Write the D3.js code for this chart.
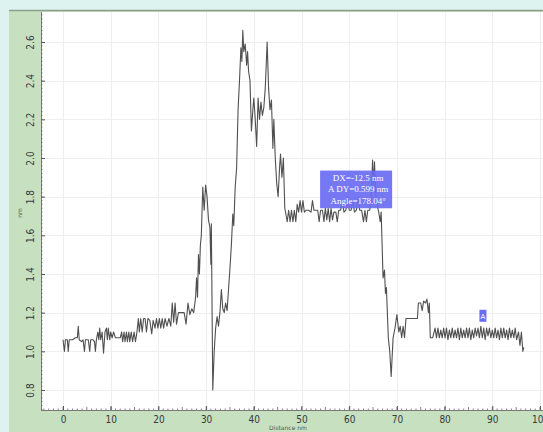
<!DOCTYPE html>
<html>
<head>
<meta charset="utf-8">
<script src="https://cdn.jsdelivr.net/npm/d3@7"></script>
<style>
  body { margin: 0; background: #dcf3ef; }
  svg { display: block; }
</style>
</head>
<body>
<svg id="chart" width="543" height="432"></svg>
<script>
// profile data (distance nm, height nm)
const distance = [
  0, 0.3, 0.5, 0.9, 1.1, 1.3, 1.8, 2.0, 2.6, 3.0, 3.2, 3.4, 3.9, 4.2, 4.5, 4.7, 5.3, 5.6, 5.8, 6.3,
  6.6, 6.8, 7.0, 7.3, 7.5, 7.7, 7.9, 8.2, 8.5, 8.8, 9.1, 9.3, 9.5, 9.8, 10.0, 10.3, 10.6, 11.0, 11.5, 12.0,
  12.3, 12.5, 12.8, 13.0, 13.3, 13.5, 13.8, 14.0, 14.3, 14.6, 14.9, 15.2, 15.5, 15.8, 16.0, 16.3, 16.6, 16.9, 17.2, 17.5,
  17.8, 18.2, 18.6, 18.9, 19.3, 19.6, 19.9, 20.2, 20.5, 20.8, 21.1, 21.4, 21.8, 22.2, 22.6, 22.9, 23.2, 23.5, 23.8, 24.2,
  24.8, 25.4, 25.8, 26.2, 26.6, 27.0, 27.4, 27.8, 28.0, 28.2, 28.4, 28.6, 28.8, 29.0, 29.3, 29.6, 29.9, 30.2, 30.5, 30.8,
  31.0, 31.1, 31.4, 31.7, 32.0, 32.3, 32.6, 32.9, 33.2, 33.5, 33.8, 34.1, 34.4, 34.7, 35.0, 35.3, 35.6, 35.8, 36.1, 36.4,
  36.7, 37.0, 37.3, 37.5, 37.7, 37.9, 38.2, 38.5, 38.7, 38.9, 39.2, 39.5, 39.8, 40.0, 40.3, 40.6, 40.9, 41.2, 41.5, 41.8,
  42.1, 42.4, 42.8, 43.1, 43.4, 43.7, 44.0, 44.2, 44.5, 44.8, 45.1, 45.4, 45.6, 45.9, 46.2, 46.5, 46.8, 47.0, 47.3, 47.6,
  47.9, 48.2, 48.5, 48.8, 49.1, 49.4, 49.7, 50.0, 50.3, 50.6, 51.0, 51.5, 52.0, 52.3, 52.6, 53.0, 53.4, 53.7, 54.0, 54.4,
  54.7, 55.0, 55.3, 55.6, 55.9, 56.2, 56.5, 56.8, 57.2, 57.5, 57.8, 58.2, 58.6, 58.9, 59.3, 59.7, 60.0, 60.4, 60.8, 61.1,
  61.5, 61.9, 62.2, 62.6, 63.0, 63.3, 63.6, 63.9, 64.3, 64.6, 64.9, 65.1, 65.3, 65.6, 65.9, 66.2, 66.5, 66.7, 66.9, 67.1,
  67.4, 67.6, 67.8, 68.0, 68.2, 68.5, 68.8, 69.2, 69.6, 70.0, 70.4, 70.7, 71.0, 71.3, 71.6, 71.9, 72.5, 73.5, 74.3, 74.5,
  75.0, 75.3, 75.6, 76.0, 76.3, 76.6, 76.8, 77.0, 77.5, 78.0, 78.3, 78.6, 78.9, 79.2, 79.5, 79.8, 80.1, 80.4, 80.7, 81.0,
  81.3, 81.6, 81.9, 82.2, 82.5, 82.8, 83.1, 83.4, 83.7, 84.0, 84.3, 84.6, 84.9, 85.2, 85.5, 85.8, 86.1, 86.4, 86.7, 87.0,
  87.3, 87.6, 87.9, 88.2, 88.5, 88.8, 89.1, 89.4, 89.7, 90.0, 90.3, 90.6, 90.9, 91.2, 91.5, 91.8, 92.1, 92.4, 92.7, 93.0,
  93.3, 93.6, 93.9, 94.2, 94.5, 94.8, 95.1, 95.5, 95.8, 96.1, 96.4, 96.6
];
const height = [
  1.06, 1.00, 1.06, 1.06, 1.00, 1.06, 1.06, 1.06, 1.07, 1.07, 1.13, 1.06, 1.05, 1.06, 1.00, 1.06, 1.06, 1.00, 1.06, 1.06,
  1.05, 1.00, 1.06, 1.10, 1.06, 1.12, 1.06, 1.10, 0.99, 1.10, 1.12, 1.06, 1.12, 1.06, 1.10, 1.07, 1.10, 1.07, 1.07, 1.07,
  1.10, 1.05, 1.10, 1.05, 1.10, 1.05, 1.10, 1.05, 1.10, 1.05, 1.10, 1.05, 1.10, 1.17, 1.10, 1.17, 1.10, 1.17, 1.17, 1.10,
  1.17, 1.16, 1.09, 1.16, 1.12, 1.17, 1.12, 1.17, 1.12, 1.17, 1.12, 1.17, 1.13, 1.17, 1.13, 1.25, 1.15, 1.25, 1.14, 1.20,
  1.20, 1.20, 1.14, 1.25, 1.19, 1.22, 1.20, 1.28, 1.38, 1.28, 1.50, 1.40, 1.55, 1.60, 1.85, 1.73, 1.86, 1.80, 1.68, 1.64,
  1.45, 1.66, 0.80, 1.00, 1.12, 1.18, 1.13, 1.20, 1.32, 1.22, 1.20, 1.25, 1.21, 1.32, 1.43, 1.55, 1.71, 1.65, 1.85, 1.95,
  2.25, 2.40, 2.57, 2.50, 2.66, 2.55, 2.59, 2.48, 2.55, 2.45, 2.40, 2.14, 2.25, 2.31, 2.20, 2.06, 2.31, 2.20, 2.29, 2.22,
  2.26, 2.36, 2.60, 2.36, 2.25, 2.30, 2.05, 2.20, 2.00, 1.87, 1.80, 1.95, 2.02, 1.90, 2.00, 1.74, 1.70, 1.67, 1.73, 1.67,
  1.73, 1.67, 1.73, 1.67, 1.76, 1.72, 1.78, 1.72, 1.78, 1.72, 1.73, 1.73, 1.72, 1.78, 1.73, 1.73, 1.73, 1.67, 1.73, 1.73,
  1.67, 1.74, 1.68, 1.74, 1.67, 1.74, 1.68, 1.72, 1.72, 1.67, 1.73, 1.73, 1.78, 1.72, 1.73, 1.80, 1.73, 1.73, 1.78, 1.72,
  1.73, 1.80, 1.73, 1.73, 1.67, 1.73, 1.67, 1.73, 1.73, 1.78, 1.99, 1.85, 1.98, 1.80, 1.75, 1.72, 1.67, 1.72, 1.55, 1.38,
  1.42, 1.30, 1.33, 1.20, 1.07, 1.00, 0.87, 1.07, 1.12, 1.19, 1.10, 1.13, 1.07, 1.13, 1.07, 1.17, 1.17, 1.17, 1.17, 1.25,
  1.25, 1.21, 1.26, 1.25, 1.27, 1.20, 1.25, 1.07, 1.07, 1.12, 1.07, 1.12, 1.07, 1.11, 1.07, 1.12, 1.07, 1.12, 1.06, 1.11,
  1.07, 1.12, 1.07, 1.11, 1.07, 1.12, 1.06, 1.12, 1.07, 1.11, 1.07, 1.12, 1.07, 1.12, 1.06, 1.11, 1.07, 1.12, 1.08, 1.12,
  1.07, 1.13, 1.07, 1.12, 1.06, 1.12, 1.08, 1.12, 1.07, 1.11, 1.07, 1.12, 1.07, 1.11, 1.06, 1.12, 1.07, 1.12, 1.07, 1.11,
  1.06, 1.12, 1.07, 1.11, 1.07, 1.12, 1.06, 1.10, 1.03, 1.10, 1.00, 1.02
];
const xTicks = [0, 10, 20, 30, 40, 50, 60, 70, 80, 90, 100];
const yTicks = [0.8, 1.0, 1.2, 1.4, 1.6, 1.8, 2.0, 2.2, 2.4, 2.6];
const noteLines = ["DX=-12.5 nm", "A DY=0.599 nm", "Angle=178.04°"];

const svg = d3.select("#chart");
const W = 543, H = 432;
const PLOT = { left: 41, top: 12, right: 543, bottom: 410 };

// Scales
const xScale = d3.scaleLinear().domain([0, 100]).range([63, 540]);
const yScale = d3.scaleLinear().domain([0.8, 2.6]).range([390, 42]);

// backgrounds
svg.append("rect").attr("width", W).attr("height", H).attr("fill", "#dcf3ef");
svg.append("rect").attr("x", 9).attr("y", 10).attr("width", W - 9).attr("height", H - 10).attr("fill", "#c6e0c0");
svg.append("line").attr("x1", 9).attr("x2", W).attr("y1", 10.5).attr("y2", 10.5)
  .attr("stroke", "#8e9e8c").attr("stroke-width", 1.5);
svg.append("rect").attr("x", PLOT.left).attr("y", PLOT.top)
  .attr("width", PLOT.right - PLOT.left).attr("height", PLOT.bottom - PLOT.top).attr("fill", "#fff");

// grid
const grid = svg.append("g").attr("stroke", "#eeeeee").attr("stroke-width", 1);
grid.selectAll(".vg").data(xTicks).enter().append("line")
  .attr("x1", d => Math.round(xScale(d)) + 0.5).attr("x2", d => Math.round(xScale(d)) + 0.5)
  .attr("y1", PLOT.top).attr("y2", PLOT.bottom);
grid.selectAll(".hg").data(yTicks).enter().append("line")
  .attr("y1", d => Math.round(yScale(d)) + 0.5).attr("y2", d => Math.round(yScale(d)) + 0.5)
  .attr("x1", PLOT.left).attr("x2", PLOT.right);

// x axis
const xAxisG = svg.append("g").attr("transform", `translate(0,${PLOT.bottom})`)
  .call(d3.axisBottom(xScale).tickValues(xTicks).tickSize(-4).tickPadding(6).tickFormat(d3.format("d")));
xAxisG.select(".domain").attr("d", `M${PLOT.left},0.5H${PLOT.right}`).attr("stroke", "#7a7a7a");
xAxisG.selectAll(".tick line").attr("stroke", "#555");
xAxisG.selectAll("text").attr("fill", "#3a3a3a").style("font", "10px 'DejaVu Sans Condensed', 'Liberation Sans Narrow', sans-serif");
const xMinor = d3.range(-4, 101, 1);
xAxisG.selectAll(".minor").data(xMinor).enter().append("line")
  .attr("x1", d => xScale(d)).attr("x2", d => xScale(d))
  .attr("y1", 0).attr("y2", d => d % 5 === 0 ? -3 : -1.5)
  .attr("stroke", "#666").attr("stroke-width", 0.8);

// y axis
const yAxisG = svg.append("g").attr("transform", `translate(${PLOT.left},0)`)
  .call(d3.axisLeft(yScale).tickValues(yTicks).tickSize(-4).tickPadding(0).tickFormat(d3.format(".1f")));
yAxisG.select(".domain").attr("d", `M0.5,${PLOT.top}V${PLOT.bottom}`).attr("stroke", "#7a7a7a");
yAxisG.selectAll(".tick line").attr("stroke", "#555");
yAxisG.selectAll("text")
  .attr("fill", "#3a3a3a").attr("x", 0).attr("dy", 0)
  .attr("text-anchor", "middle")
  .attr("transform", "translate(-7,0) rotate(-90)")
  .style("font", "10px 'DejaVu Sans Condensed', 'Liberation Sans Narrow', sans-serif");
const yMinor = d3.range(0.7, 2.76, 0.02);
yAxisG.selectAll(".minor").data(yMinor).enter().append("line")
  .attr("y1", d => yScale(d)).attr("y2", d => yScale(d))
  .attr("x1", 0).attr("x2", 1.5)
  .attr("stroke", "#666").attr("stroke-width", 0.8);

// axis titles
svg.append("text").attr("transform", "translate(22,213) rotate(-90)")
  .attr("text-anchor", "middle").attr("fill", "#555")
  .style("font", "6px 'DejaVu Sans', sans-serif").text("nm");
svg.append("text").attr("x", 288).attr("y", 430)
  .attr("text-anchor", "middle").attr("fill", "#555")
  .style("font", "6px 'DejaVu Sans', sans-serif").text("Distance nm");

// profile line
const points = distance.map((d, i) => [d, height[i]]);
const line = d3.line().x(d => xScale(d[0])).y(d => yScale(d[1]));
svg.append("path").datum(points)
  .attr("d", line).attr("fill", "none")
  .attr("stroke", "#505050").attr("stroke-width", 1.1).attr("stroke-linejoin", "round");

// measurement note box
const boxX = xScale(53.9), boxY = yScale(1.935);
svg.append("rect").attr("x", boxX).attr("y", boxY)
  .attr("width", xScale(69) - xScale(53.9)).attr("height", yScale(1.74) - yScale(1.935))
  .attr("fill", "#6a6cf2").attr("opacity", 0.92);
svg.selectAll(".note").data(noteLines).enter().append("text")
  .attr("x", boxX + 38).attr("y", (d, i) => boxY + 10 + i * 11.5)
  .attr("text-anchor", "middle").attr("fill", "#fff")
  .style("font", "9px 'Liberation Serif', serif")
  .text(d => d);

// "A" marker
svg.append("rect").attr("x", xScale(87.3)).attr("y", yScale(1.215))
  .attr("width", 7).attr("height", 12).attr("fill", "#6a6cf2");
svg.append("text").attr("x", xScale(87.3) + 3.5).attr("y", yScale(1.215) + 9)
  .attr("text-anchor", "middle").attr("fill", "#fff")
  .style("font", "7px 'DejaVu Sans', sans-serif").text("A");
</script>
</body>
</html>
